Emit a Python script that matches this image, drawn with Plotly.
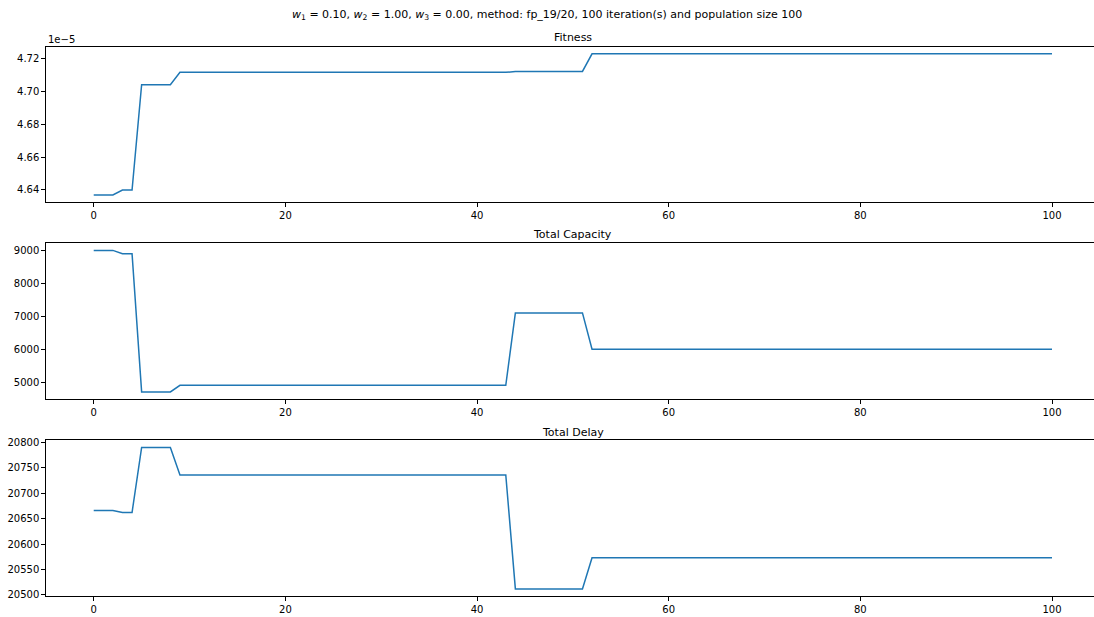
import plotly.graph_objects as go

W, H = 1094, 617

iterations = list(range(101))
fitness = [4.637e-5]*3 + [4.640e-5]*2 + [4.704e-5]*4 + [4.7115e-5]*35 + [4.7121e-5]*8 + [4.7228e-5]*49
capacity = [9000]*3 + [8900]*2 + [4700]*4 + [4900]*35 + [7100]*8 + [6000]*49
delay = [20666]*3 + [20662]*2 + [20790]*4 + [20736]*35 + [20512]*8 + [20573]*49

x_ticks = [0, 20, 40, 60, 80, 100]
fit_ticks = [4.64e-5, 4.66e-5, 4.68e-5, 4.70e-5, 4.72e-5]
fit_tick_text = ["4.64", "4.66", "4.68", "4.70", "4.72"]
cap_ticks = [5000, 6000, 7000, 8000, 9000]
delay_ticks = [20500, 20550, 20600, 20650, 20700, 20750, 20800]

titles = ["Fitness", "Total Capacity", "Total Delay"]
suptitle = ("<i>w</i><sub>1</sub> = 0.10, <i>w</i><sub>2</sub> = 1.00, <i>w</i><sub>3</sub> = 0.00, "
            "method: fp_19/20, 100 iteration(s) and population size 100")

def py(p):
    return 1 - p / H

left = 45.8 / W
domains = [(py(202), py(46.7)), (py(399), py(243.3)), (py(596), py(440.3))]
yranges = [(4.6327e-5, 4.7271e-5), (4485, 9215), (20498, 20804)]
series = [fitness, capacity, delay]
xr = [-5, -5 + (W - 45.8) / 9.583]
title_centers = [37, 234, 433]

FONT = "DejaVu Sans"
TICK = 10
fig = go.Figure()
for i, (ys, dom, yr) in enumerate(zip(series, domains, yranges)):
    n = "" if i == 0 else str(i + 1)
    fig.add_trace(go.Scatter(x=iterations, y=ys, mode="lines",
                             line=dict(color="#1f77b4", width=1.5),
                             xaxis="x" + n, yaxis="y" + n, showlegend=False))
    ax = dict(domain=[left, 1.0], range=xr, anchor="y" + n, showgrid=False, zeroline=False,
              showline=True, linecolor="black", linewidth=1, mirror=True,
              ticks="outside", ticklen=3.5, tickcolor="black", tickwidth=0.8,
              tickvals=x_ticks, tickfont=dict(family=FONT, size=TICK, color="black"),
              automargin=False)
    ay = dict(domain=list(dom), range=list(yr), anchor="x" + n, showgrid=False, zeroline=False,
              showline=True, linecolor="black", linewidth=1, mirror=False,
              ticks="outside", ticklen=3.5, tickcolor="black", tickwidth=0.8,
              tickfont=dict(family=FONT, size=TICK, color="black"), automargin=False)
    if i == 0:
        ay.update(tickvals=fit_ticks, ticktext=fit_tick_text)
    elif i == 1:
        ay.update(tickvals=cap_ticks, tickformat="d")
    else:
        ay.update(tickvals=delay_ticks, tickformat="d")
    fig.update_layout(**{"xaxis" + n: ax, "yaxis" + n: ay})
    fig.add_annotation(text=titles[i], xref="paper", yref="paper",
                       x=(left + 1.0 + 5.5 / W) / 2, y=py(title_centers[i]),
                       xanchor="center", yanchor="middle", showarrow=False,
                       font=dict(family=FONT, size=11, color="black"))

fig.add_annotation(text=suptitle, xref="paper", yref="paper", x=0.5, y=py(15),
                   xanchor="center", yanchor="middle", showarrow=False,
                   font=dict(family=FONT, size=11, color="black"))
fig.add_annotation(text="1e\u22125", xref="paper", yref="paper", x=left, y=py(40),
                   xanchor="left", yanchor="middle", showarrow=False,
                   font=dict(family=FONT, size=TICK, color="black"))

fig.update_layout(width=W, height=H, margin=dict(l=0, r=0, t=0, b=0, autoexpand=False),
                  paper_bgcolor="white", plot_bgcolor="white")
fig.write_html("out.html")
